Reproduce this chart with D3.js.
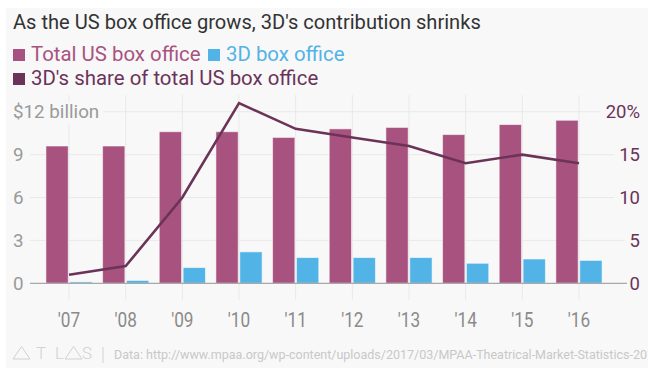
<!DOCTYPE html>
<html>
<head>
<meta charset="utf-8">
<script src="https://cdn.jsdelivr.net/npm/d3@7"></script>
<style>
  body { margin: 0; background: #fff; }
  text { font-family: Roboto, "Noto Sans", sans-serif; }
</style>
</head>
<body>
<script>
const years = ["'07", "'08", "'09", "'10", "'11", "'12", "'13", "'14", "'15", "'16"];
const totalBox = [9.6, 9.6, 10.6, 10.6, 10.2, 10.8, 10.9, 10.4, 11.1, 11.4];
const box3d = [0.1, 0.2, 1.1, 2.2, 1.8, 1.8, 1.8, 1.4, 1.7, 1.6];
const share3d = [1, 2, 10, 21, 18, 17, 16, 14, 15, 14];
const leftTicks = [0, 3, 6, 9, 12];
const rightTicks = [0, 5, 10, 15, 20];

const W = 648, H = 376;
const colTotal = '#a8537f', col3d = '#51b3e6', colShare = '#6b3358';
const bg = '#f8f8f8';

const svg = d3.select('body').append('svg').attr('width', W).attr('height', H);
svg.append('rect').attr('x', 6).attr('y', 8).attr('width', W - 6).attr('height', 360).attr('fill', bg);

svg.append('text')
  .attr('x', 13).attr('y', 29)
  .attr('font-size', 20.1).attr('fill', '#333')
  .text("As the US box office grows, 3D's contribution shrinks");

// legend
const legend = [
  { label: 'Total US box office', color: colTotal, x: 13, y: 61 },
  { label: '3D box office', color: col3d, x: 208, y: 61 },
  { label: "3D's share of total US box office", color: colShare, x: 13, y: 85 },
];
const lg = svg.selectAll('g.leg').data(legend).enter().append('g').attr('class', 'leg');
lg.append('rect')
  .attr('x', d => d.x).attr('y', d => d.y - 12)
  .attr('width', 12).attr('height', 12)
  .attr('fill', d => d.color);
lg.append('text')
  .attr('x', d => d.x + 18).attr('y', d => d.y)
  .attr('font-size', 20.4).attr('fill', d => d.color)
  .text(d => d.label);

// scales
const x = d3.scaleBand().domain(years).range([40.7, 607.3]).padding(0);
const y = d3.scaleLinear().domain([0, 12]).range([283.3, 111.7]);
const y2 = d3.scaleLinear().domain([0, 20]).range([283.3, 111.7]);
const cx = d => x(d) + x.bandwidth() / 2;

// grid
svg.append('g').selectAll('line').data(years).enter().append('line')
  .attr('x1', cx).attr('x2', cx).attr('y1', 95).attr('y2', 300)
  .attr('stroke', '#e9e9e9').attr('stroke-width', 1);
svg.append('g').selectAll('line').data(leftTicks.filter(d => d > 0)).enter().append('line')
  .attr('x1', 30).attr('x2', 627)
  .attr('y1', d => y(d)).attr('y2', d => y(d))
  .attr('stroke', '#e9e9e9').attr('stroke-width', 1);

// left tick labels with knockout background
const lt = svg.append('g').selectAll('g').data(leftTicks).enter().append('g');
lt.append('text')
  .attr('x', 13).attr('y', d => y(d)).attr('dy', '0.36em')
  .attr('font-size', 18.8).attr('fill', '#9a9a9a')
  .text(d => d === 12 ? '$12 billion' : d);
lt.each(function () {
  const b = d3.select(this).select('text').node().getBBox();
  d3.select(this).insert('rect', 'text')
    .attr('x', b.x - 3).attr('y', b.y).attr('width', b.width + 7).attr('height', b.height)
    .attr('fill', bg);
});

const rt = svg.append('g').selectAll('g').data(rightTicks).enter().append('g');
rt.append('text')
  .attr('x', 640).attr('y', d => y2(d)).attr('dy', '0.36em')
  .attr('text-anchor', 'end')
  .attr('font-size', 18.5).attr('fill', colShare)
  .text(d => d === 20 ? '20%' : d);
rt.each(function () {
  const b = d3.select(this).select('text').node().getBBox();
  d3.select(this).insert('rect', 'text')
    .attr('x', b.x - 5).attr('y', b.y).attr('width', b.width + 7).attr('height', b.height)
    .attr('fill', bg);
});

// bars
const bw = 22.3;
svg.append('g').selectAll('rect').data(totalBox).enter().append('rect')
  .attr('x', (d, i) => cx(years[i]) - bw - 0.8)
  .attr('y', d => y(d)).attr('width', bw).attr('height', d => y(0) - y(d))
  .attr('fill', colTotal).attr('stroke', 'rgba(255,255,255,0.55)').attr('stroke-width', 1);
svg.append('g').selectAll('rect').data(box3d).enter().append('rect')
  .attr('x', (d, i) => cx(years[i]) + 0.8)
  .attr('y', d => y(d)).attr('width', bw).attr('height', d => y(0) - y(d))
  .attr('fill', col3d).attr('stroke', 'rgba(255,255,255,0.55)').attr('stroke-width', 1);

// baseline
svg.append('line')
  .attr('x1', 30).attr('x2', 627).attr('y1', y(0)).attr('y2', y(0))
  .attr('stroke', '#a8a8a8').attr('stroke-width', 1.2);

// line
const line = d3.line().x((d, i) => cx(years[i])).y(d => y2(d));
svg.append('path').datum(share3d)
  .attr('d', line).attr('fill', 'none')
  .attr('stroke', colShare).attr('stroke-width', 2.6)
  .attr('stroke-linejoin', 'miter');

// x axis labels (condensed look)
svg.append('g').selectAll('text').data(years).enter().append('text')
  .attr('x', cx).attr('y', 327)
  .attr('text-anchor', 'middle')
  .attr('font-size', 20.5).attr('fill', '#8a8a8a')
  .attr('transform', d => `translate(${cx(d)},0) scale(0.84,1) translate(${-cx(d)},0)`)
  .text(d => d);

// footer: Atlas mark
const logoCol = '#d2d2d2';
const tri = [13, 65];
svg.append('g').selectAll('path').data(tri).enter().append('path')
  .attr('d', d => `M${d},359 L${d + 8.5},346.5 L${d + 17},359 Z`)
  .attr('fill', 'none').attr('stroke', logoCol).attr('stroke-width', 1)
  .attr('stroke-linejoin', 'miter');
const letters = [{ t: 'T', x: 41 }, { t: 'L', x: 59.5 }, { t: 'S', x: 87 }];
svg.append('g').selectAll('text').data(letters).enter().append('text')
  .attr('x', d => d.x).attr('y', 359)
  .attr('text-anchor', 'middle')
  .attr('font-size', 17).attr('font-weight', 300).attr('fill', logoCol)
  .text(d => d.t);
svg.append('line')
  .attr('x1', 103).attr('x2', 103).attr('y1', 347).attr('y2', 363)
  .attr('stroke', logoCol).attr('stroke-width', 1);
svg.append('text')
  .attr('x', 114).attr('y', 359)
  .attr('font-size', 12.5).attr('fill', '#c8c8c8')
  .text('Data: http://www.mpaa.org/wp-content/uploads/2017/03/MPAA-Theatrical-Market-Statistics-2016_Final.pdf');
</script>
</body>
</html>
